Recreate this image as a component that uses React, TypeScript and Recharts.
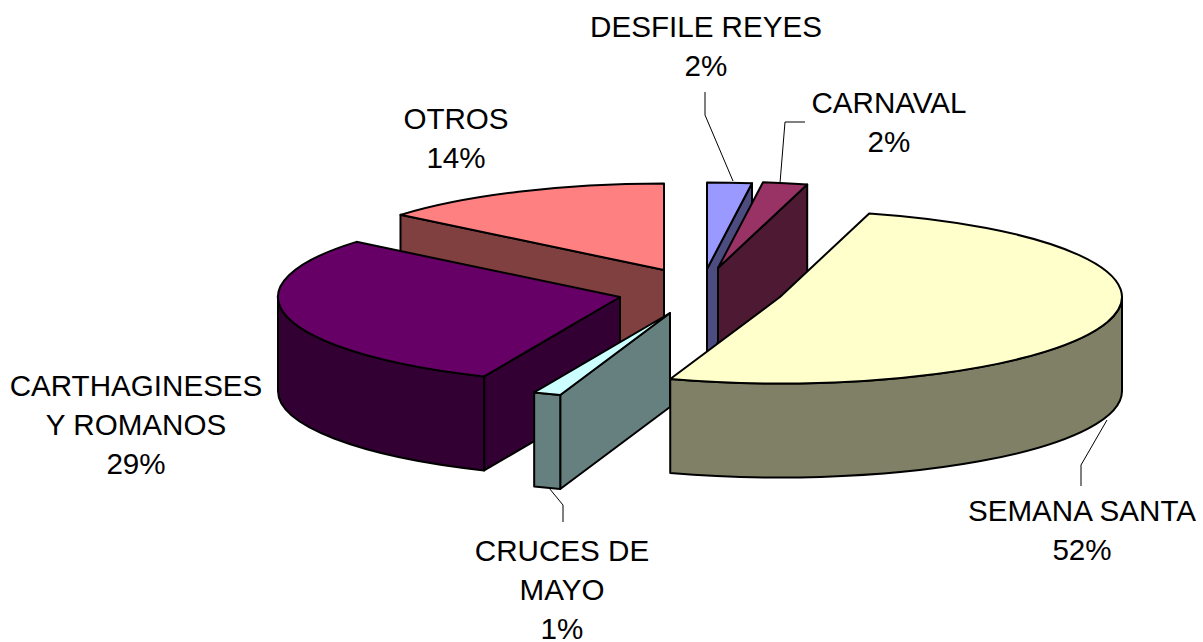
import { PieChart, Pie } from 'recharts';

const names = ['OTROS', 'DESFILE REYES', 'CARNAVAL', 'SEMANA SANTA', 'CRUCES DE MAYO', 'CARTHAGINESES Y ROMANOS'];
const shares = [14, 2.1, 2.1, 51, 1.3, 29.5];

const topColors = ['#FF8080', '#9999FF', '#993366', '#FFFFCC', '#CCFFFF', '#660066'];
const wallColors = ['#804040', '#4C4C80', '#4D1933', '#808066', '#668080', '#330033'];

// the slices are pulled apart, so each one has its own centre
const centresX = [664, 707, 718, 780, 670, 620];
const centresY = [270, 269, 268, 297, 313, 297];

const labelLines = [['OTROS', '14%'], ['DESFILE REYES', '2%'], ['CARNAVAL', '2%'], ['SEMANA SANTA', '52%'], ['CRUCES DE', 'MAYO', '1%'], ['CARTHAGINESES', 'Y ROMANOS', '29%']];
const labelX = [456, 706, 889, 1082, 562, 136];
const labelY = [129, 37, 113, 521, 561, 396];
const leaders = ['', '705,92 705,115 733,181', '805,122 785,122 780,183', '1081,486 1081,465 1107,420', '563,522 563,505 549,488', ''];

const SQUASH = 0.253;
const DEPTH = 94;
const RADIUS = 342;
const RAD = Math.PI / 180;

const drawOrder = [0, 1, 2, 5, 4, 3];

// clockwise, Otros ends at 12 o'clock
const firstAngle = 90 + (shares[0] * 360) / 100;
const startAngles = shares.map((_, i) => firstAngle - (shares.slice(0, i).reduce((a, b) => a + b, 0) * 360) / 100);
const endAngles = startAngles.map((a, i) => a - (shares[i] * 360) / 100);

const Slice3D = (props: any) => {
  const { cx, cy, outerRadius: r, startAngle, endAngle, fill, payload } = props;
  const ry = r * SQUASH;
  const pt = (deg: number, dy = 0) => `${cx + r * Math.cos(deg * RAD)} ${cy - ry * Math.sin(deg * RAD) + dy}`;
  const stroke = { stroke: '#000', strokeWidth: 2, strokeLinejoin: 'round' as const };
  const cen = `${cx} ${cy}`;
  const cenLow = `${cx} ${cy + DEPTH}`;

  // outer wall only exists on the lower half of the ellipse
  const wallFrom = Math.min(startAngle, 0);
  const wallTo = Math.max(endAngle, -180);
  const large = Math.abs(startAngle - endAngle) > 180 ? 1 : 0;

  return (
    <g>
      {Math.cos(startAngle * RAD) < -0.001 && (
        <path d={`M ${cen} L ${pt(startAngle)} L ${pt(startAngle, DEPTH)} L ${cenLow} Z`} fill={payload.wall} {...stroke} />
      )}
      {Math.cos(endAngle * RAD) > 0.001 && (
        <path d={`M ${cen} L ${pt(endAngle)} L ${pt(endAngle, DEPTH)} L ${cenLow} Z`} fill={payload.wall} {...stroke} />
      )}
      {wallTo < wallFrom && (
        <path
          d={`M ${pt(wallFrom)} A ${r} ${ry} 0 0 1 ${pt(wallTo)} L ${pt(wallTo, DEPTH)} A ${r} ${ry} 0 0 0 ${pt(wallFrom, DEPTH)} Z`}
          fill={payload.wall}
          {...stroke}
        />
      )}
      <path d={`M ${cen} L ${pt(startAngle)} A ${r} ${ry} 0 ${large} 1 ${pt(endAngle)} Z`} fill={fill} {...stroke} />
    </g>
  );
};

const SliceLabel = (props: any) => {
  const { lines, x, y, leader } = props.payload;
  return (
    <g>
      {leader && <polyline points={leader} fill="none" stroke="#000" strokeWidth={1} />}
      <text x={x} y={y} textAnchor="middle" fontFamily="Liberation Sans" fontSize={29.6} fill="#000">
        {lines.map((line: string, i: number) => (
          <tspan key={line} x={x} dy={i === 0 ? 0 : 39}>
            {line}
          </tspan>
        ))}
      </text>
    </g>
  );
};

export default function App() {
  return (
    <div style={{ position: 'absolute', left: 0, top: 0, width: 1203, height: 642, background: '#fff', overflow: 'hidden' }}>
      <PieChart width={1203} height={642} margin={{ top: 0, right: 0, bottom: 0, left: 0 }}>
        {drawOrder.map((i) => (
          <Pie
            key={names[i]}
            data={[
              {
                name: names[i],
                value: shares[i],
                fill: topColors[i],
                wall: wallColors[i],
                lines: labelLines[i],
                x: labelX[i],
                y: labelY[i],
                leader: leaders[i],
              },
            ]}
            dataKey="value"
            cx={centresX[i]}
            cy={centresY[i]}
            innerRadius={0}
            outerRadius={RADIUS}
            startAngle={startAngles[i]}
            endAngle={endAngles[i]}
            stroke="none"
            isAnimationActive={false}
            shape={Slice3D}
            label={SliceLabel}
            labelLine={false}
          />
        ))}
      </PieChart>
    </div>
  );
}
